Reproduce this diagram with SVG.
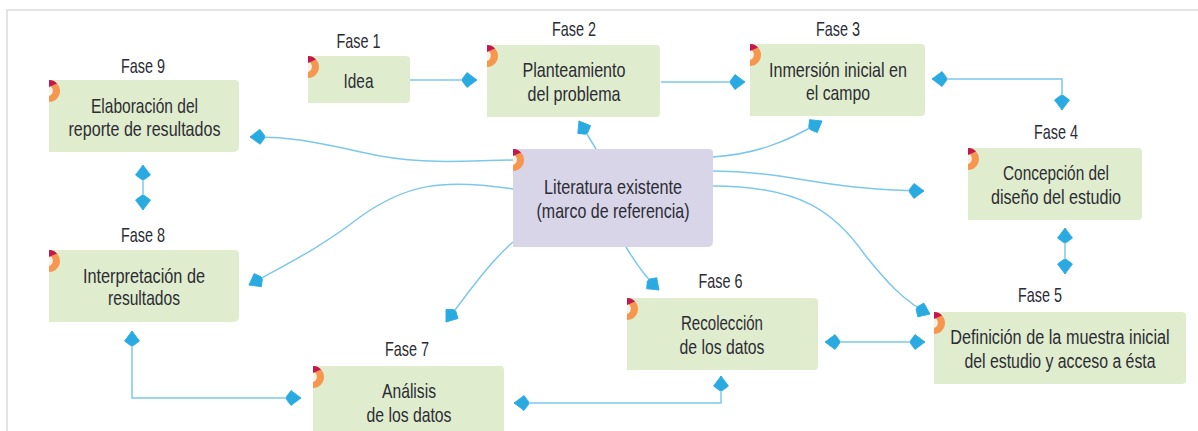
<svg xmlns="http://www.w3.org/2000/svg" width="1198" height="431" viewBox="0 0 1198 431">
<style>
text{font-family:"Liberation Sans",Arial,sans-serif;font-size:21px;fill:#2c2c34;text-anchor:middle}
.box{fill:#e0ecce}
.mid{fill:#d8d5e9}
.c{fill:none;stroke:#7cc8ec;stroke-width:1.5}
.a{marker-end:url(#h)}
.b{marker-start:url(#h);marker-end:url(#h)}
marker{overflow:visible}
</style>
<defs>
<marker id="h" viewBox="-18 -10 20 20" refX="0" refY="0" markerWidth="20" markerHeight="20" markerUnits="userSpaceOnUse" orient="auto-start-reverse">
<path d="M0,0 L-10,-7.500 L-14.500,-1.500 L-14.500,1.500 L-10,7.500 Z" fill="#29abe2" stroke="#29abe2" stroke-width=".8" stroke-linejoin="round"/>
</marker>
<g id="badge">
<path d="M0,-5 A5,5 0 0 1 0,5 Z" fill="#f2f3e6"/>
<path d="M0,-11 A11,11 0 0 1 0,11 L0,5 A5.500,5.500 0 0 0 0,-5.500 Z" fill="#f7964f"/>
<path d="M0,-11 A11,11 0 0 1 8,-7.600 L0,-4 Z" fill="#c2184f"/>
</g>
</defs>
<path d="M7,431 V10 H1198" fill="none" stroke="#e3e3e3" stroke-width="2"/>
<g id="connectors">
<path class="c a" d="M410,80 H477"/>
<path class="c a" d="M661,82 H745"/>
<path class="c b" d="M932,79 H1062 V110"/>
<path class="c b" d="M1065,228 V274"/>
<path class="c b" d="M825,342 H925"/>
<path class="c b" d="M721,376 V403 H514"/>
<path class="c b" d="M132,331 V398 H301"/>
<path class="c b" d="M143,165 V210"/>
<path class="c a" d="M596,149 L579,121"/>
<path class="c a" d="M713,157 C755,154 785,143 822,121"/>
<path class="c a" d="M713,171 C790,171 820,190 924,191"/>
<path class="c a" d="M713,186 C800,186 835,212 865,255 C885,280 905,303 930,314"/>
<path class="c a" d="M626,247 C635,262 645,277 659,290"/>
<path class="c a" d="M513,242 C490,262 470,290 446,322"/>
<path class="c a" d="M513,189 C440,178 405,185 360,217 C320,248 285,265 249,285"/>
<path class="c a" d="M513,160 C450,162 420,163 380,156 C330,146 300,136 250,137"/>
</g>
<g id="fase1"><path class="box" d="M308,56 H406 Q410,56 410,60 V99 Q410,103 406,103 H308 Z"/><use href="#badge" x="308" y="67"/><text x="358.500" y="48" textLength="44" lengthAdjust="spacingAndGlyphs">Fase 1</text><text x="358.500" y="88" textLength="30" lengthAdjust="spacingAndGlyphs">Idea</text></g>
<g id="fase2"><path class="box" d="M487,45 H656 Q660,45 660,49 V113 Q660,117 656,117 H487 Z"/><use href="#badge" x="487" y="56"/><text x="574" y="36" textLength="44" lengthAdjust="spacingAndGlyphs">Fase 2</text><text x="574" y="77" textLength="103" lengthAdjust="spacingAndGlyphs">Planteamiento</text><text x="574" y="101" textLength="93" lengthAdjust="spacingAndGlyphs">del problema</text></g>
<g id="fase3"><path class="box" d="M750,44 H921 Q925,44 925,48 V112 Q925,116 921,116 H750 Z"/><use href="#badge" x="750" y="55"/><text x="838" y="36" textLength="44" lengthAdjust="spacingAndGlyphs">Fase 3</text><text x="838" y="77" textLength="138" lengthAdjust="spacingAndGlyphs">Inmersión inicial en</text><text x="838" y="100" textLength="64" lengthAdjust="spacingAndGlyphs">el campo</text></g>
<g id="fase4"><path class="box" d="M968,148 H1138 Q1142,148 1142,152 V216 Q1142,220 1138,220 H968 Z"/><use href="#badge" x="968" y="159"/><text x="1056" y="139" textLength="44" lengthAdjust="spacingAndGlyphs">Fase 4</text><text x="1056" y="180" textLength="106" lengthAdjust="spacingAndGlyphs">Concepción del</text><text x="1056" y="204" textLength="130" lengthAdjust="spacingAndGlyphs">diseño del estudio</text></g>
<g id="fase5"><path class="box" d="M934,312 H1182 Q1186,312 1186,316 V380 Q1186,384 1182,384 H934 Z"/><use href="#badge" x="934" y="323"/><text x="1040" y="302" textLength="44" lengthAdjust="spacingAndGlyphs">Fase 5</text><text transform="translate(1060,344) scale(.774,1)">Definición de la muestra inicial</text><text transform="translate(1060,368) scale(.755,1)">del estudio y acceso a ésta</text></g>
<g id="fase6"><path class="box" d="M627,298 H814 Q818,298 818,302 V366 Q818,370 814,370 H627 Z"/><use href="#badge" x="627" y="309"/><text x="720.500" y="288" textLength="44" lengthAdjust="spacingAndGlyphs">Fase 6</text><text x="722" y="330" textLength="82" lengthAdjust="spacingAndGlyphs">Recolección</text><text x="722" y="354" textLength="85" lengthAdjust="spacingAndGlyphs">de los datos</text></g>
<g id="fase7"><path class="box" d="M313,366 H500 Q504,366 504,370 V431 H313 Z"/><use href="#badge" x="313" y="377"/><text x="407" y="356" textLength="44" lengthAdjust="spacingAndGlyphs">Fase 7</text><text x="409" y="398" textLength="54" lengthAdjust="spacingAndGlyphs">Análisis</text><text x="409" y="422" textLength="85" lengthAdjust="spacingAndGlyphs">de los datos</text></g>
<g id="fase8"><path class="box" d="M49,250 H235 Q239,250 239,254 V316 Q239,322 233,322 H49 Z"/><use href="#badge" x="49" y="261"/><text x="143" y="242" textLength="44" lengthAdjust="spacingAndGlyphs">Fase 8</text><text x="144" y="283" textLength="122" lengthAdjust="spacingAndGlyphs">Interpretación de</text><text x="144" y="305" textLength="72" lengthAdjust="spacingAndGlyphs">resultados</text></g>
<g id="fase9"><path class="box" d="M49,80 H235 Q239,80 239,84 V146 Q239,152 233,152 H49 Z"/><use href="#badge" x="49" y="91"/><text x="143" y="73" textLength="44" lengthAdjust="spacingAndGlyphs">Fase 9</text><text x="144.500" y="113" textLength="107" lengthAdjust="spacingAndGlyphs">Elaboración del</text><text x="144.500" y="136" textLength="152" lengthAdjust="spacingAndGlyphs">reporte de resultados</text></g>
<g id="literatura"><path class="mid" d="M513,149 H709 Q713,149 713,153 V241 Q713,247 707,247 H513 Z"/><use href="#badge" x="513" y="160"/><text x="613" y="194" textLength="138" lengthAdjust="spacingAndGlyphs">Literatura existente</text><text x="613" y="218" textLength="153" lengthAdjust="spacingAndGlyphs">(marco de referencia)</text></g>
</svg>
